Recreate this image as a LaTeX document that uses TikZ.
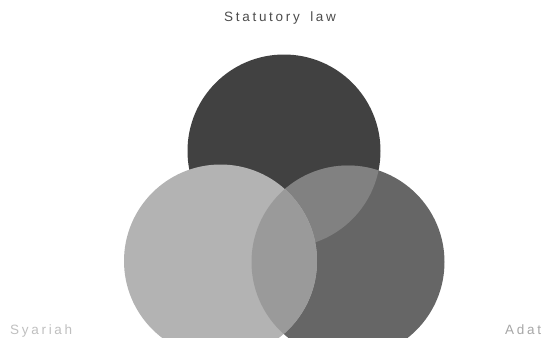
\documentclass[tikz,border=0pt]{standalone}
\usepackage{fontspec}
\setmainfont{Liberation Sans}[LetterSpace=20]
\begin{document}
\begin{tikzpicture}[x=1pt,y=-1pt]
\definecolor{cTop}{HTML}{414141}
\definecolor{cRight}{HTML}{666666}
\definecolor{cLeft}{HTML}{B3B3B3}
\definecolor{cTR}{HTML}{818181}
\definecolor{cLR}{HTML}{9A9A9A}
\tikzset{lbl/.style={inner sep=0pt, font=\fontsize{13.5}{15}\selectfont, anchor=base}}
\useasboundingbox (0,0) rectangle (542,338);
\coordinate (T) at (284,151);
\coordinate (L) at (220.5,261);
\coordinate (R) at (348,262);
\def\rr{96.5}
\fill[cTop] (T) circle[radius=\rr];
\fill[cRight] (R) circle[radius=\rr];
\begin{scope}
\clip (T) circle[radius=\rr];
\fill[cTR] (R) circle[radius=\rr];
\end{scope}
\fill[cLeft] (L) circle[radius=\rr];
\begin{scope}
\clip (L) circle[radius=\rr];
\fill[cLR] (R) circle[radius=\rr];
\end{scope}
\node[lbl, text=black!70, anchor=base west] (stat) at (224,21.5) {Statutory\hspace{4pt} law};
\node[lbl, text=black!25, anchor=base west] (sya) at (10,334) {Syariah};
\node[lbl, text=black!35, anchor=base west] (adat) at (505,334) {Adat};
\end{tikzpicture}
\end{document}
